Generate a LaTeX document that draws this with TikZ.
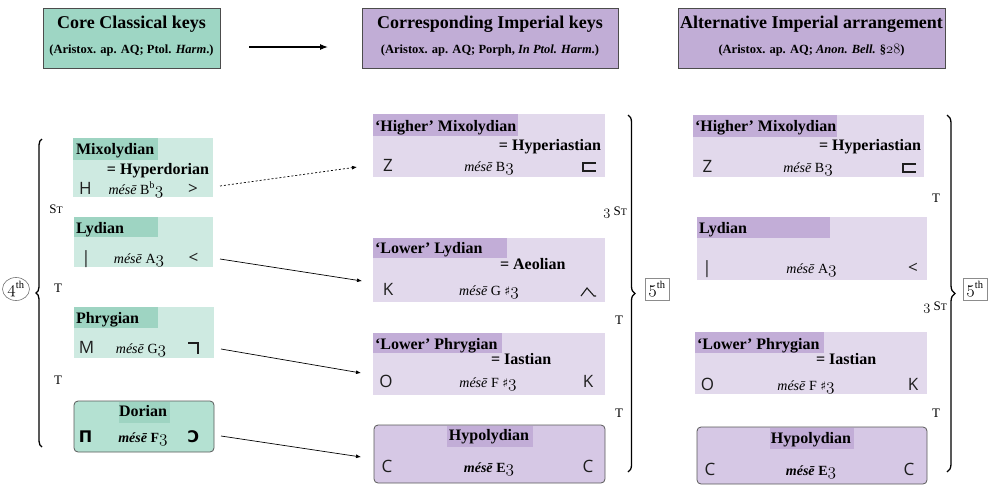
\documentclass[tikz,border=0pt]{standalone}
\usepackage{fontspec}
\setmainfont{Liberation Serif}
\newfontfamily\symf{Open Sans}
\newfontfamily\dvs{DejaVu Sans}
\usetikzlibrary{decorations.pathreplacing,calc,arrows.meta,shapes.geometric}
\newcommand\osn[2][16]{{\fontsize{#1}{#1}\usefont{OML}{lmm}{m}{it}#2}}
\newcommand\STx{S{\fontsize{10}{10}\selectfont T}}
\newcommand\mese{\textit{mésē}}
\newcommand\shp{{\dvs\fontsize{12}{12}\selectfont ♯}}
\definecolor{gHead}{RGB}{158,214,196}
\definecolor{gLight}{RGB}{206,234,225}
\definecolor{gBand}{RGB}{158,212,194}
\definecolor{gDor}{RGB}{180,225,210}
\definecolor{pHead}{RGB}{193,173,214}
\definecolor{pLight}{RGB}{226,217,236}
\definecolor{pBand}{RGB}{194,173,215}
\definecolor{pHypo}{RGB}{214,200,229}
\definecolor{symc}{RGB}{30,30,30}
\tikzset{
  every node/.style={inner sep=0pt, outer sep=0pt},
  ttl/.style={font=\fontsize{18}{20}\selectfont\bfseries, anchor=base},
  sub/.style={font=\fontsize{12.5}{14}\selectfont\bfseries, anchor=base},
  hdr/.style={draw=black!70, line width=0.8pt, anchor=north west, minimum height=60},
  gbox/.style={fill=gLight, anchor=north west},
  pbox/.style={fill=pLight, anchor=north west},
  gband/.style={fill=gBand, anchor=north west},
  pband/.style={fill=pBand, anchor=north west},
  rbox/.style={draw=black!65, line width=0.8pt, rounded corners=4pt, anchor=north west},
  lbl/.style={font=\fontsize{16}{18}\selectfont\bfseries, anchor=base west},
  eqs/.style={font=\fontsize{16}{18}\selectfont\bfseries},
  mes/.style={font=\fontsize{14}{16}\selectfont, anchor=base},
  sym/.style={font=\symf\fontsize{17}{19}\selectfont, text=symc, anchor=base},
  bsym/.style={font=\dvs\bfseries\fontsize{16}{18}\selectfont, text=black, anchor=base},
  lsym/.style={draw=symc, line width=1.2pt},
  step lbl/.style={font=\fontsize{13}{15}\selectfont, anchor=base},
  conn/.style={-{Latex[length=5pt,width=4pt]}, line width=0.7pt},
  brc/.style={decorate, line width=1.3pt},
  interval/.style={font=\fontsize{15}{17}\selectfont}
}
\begin{document}
\begin{tikzpicture}[x=1pt,y=-1pt]
\useasboundingbox (0,0) rectangle (988,485);
% headers
\node[hdr, fill=gHead, minimum width=177] (h1) at (43,8) {};
\node[ttl] (h1t) at (131.5,28) {Core Classical keys};
\node[sub] (h1s) at (131.5,53) {(Aristox. ap. AQ; Ptol. \textit{Harm}.)};
\node[hdr, fill=pHead, minimum width=256] (h2) at (362,8) {};
\node[ttl] (h2t) at (490,28) {Corresponding Imperial keys};
\node[sub] (h2s) at (490,53) {(Aristox. ap. AQ; Porph, \textit{In Ptol. Harm}.)};
\node[hdr, fill=pHead, minimum width=267] (h3) at (678,8) {};
\node[ttl] (h3t) at (811.5,28) {Alternative Imperial arrangement};
\node[sub] (h3s) at (811.5,53) {(Aristox. ap. AQ; \textit{Anon. Bell.} §\osn[14]{28})};
\draw[-{Latex[length=8pt,width=6pt]}, line width=1.1pt] ($(h1.east)+(29,9)$) -- ($(h2.west)+(-34,9)$);

% ---------- left column
\node[gbox, minimum width=140, minimum height=59] (mix) at (73,138) {};
\node[gband, minimum width=85, minimum height=22] (mixb) at (mix.north west) {};
\node[lbl] (mixl) at (76,154) {Mixolydian};
\node[eqs, anchor=base east] (mixe) at (209,174) {= Hyperdorian};
\node[sym] (mixs1) at (85.5,194) {H};
\node[mes] (mixm) at (136,194) {\mese{} B\textsuperscript{b}\osn{3}};
\node[sym] (mixs2) at (193,194) {>};

\node[gbox, minimum width=139, minimum height=50] (lyd) at (74,217) {};
\node[gband, minimum width=84, minimum height=20] (lydb) at (lyd.north west) {};
\node[lbl] (lydl) at (76,233) {Lydian};
\node[sym] (lyds1) at (86,263) {|};
\node[mes] (lydm) at (139,263) {\mese{} A\osn{3}};
\node[sym] (lyds2) at (193.5,263) {<};

\node[gbox, minimum width=140, minimum height=51] (phr) at (74,307) {};
\node[gband, minimum width=84, minimum height=21] (phrb) at (phr.north west) {};
\node[lbl] (phrl) at (76,323) {Phrygian};
\node[sym] (phrs1) at (86.5,353) {M};
\node[mes] (phrm) at (141,353) {\mese{} G\osn{3}};
\draw[lsym, line width=1.6pt] (188,343) -- (198,343) -- (198,354);

\node[rbox, fill=gDor, minimum width=140, minimum height=51] (dor) at (74,401) {};
\node[gband, anchor=north, minimum width=51, minimum height=21] (dorb) at ([yshift=-0.8pt]dor.north) {};
\node[lbl, anchor=base] (dorl) at (143,416) {Dorian};
\node[bsym] (dors1) at (85.5,442) {Π};
\node[mes] (dorm) at (143,442) {\textit{\textbf{mésē}} \textbf{F\osn{3}}};
\node[bsym] (dors2) at (193.5,442) {Ɔ};

\draw[brc, decoration={brace, amplitude=6pt}] (42,447) -- (42,139);
\node[draw=black!55, line width=0.6pt, ellipse, minimum width=27, minimum height=23, interval] (fourth) at (16,289) {\osn[17]{4}\textsuperscript{th}};
\node[step lbl] (l1) at (56,213) {\STx};
\node[step lbl] (l2) at (58,292) {T};
\node[step lbl] (l3) at (58,384) {T};

% ---------- middle column
\node[pbox, minimum width=232, minimum height=63] (hmix) at (373,114) {};
\node[pband, minimum width=145, minimum height=22] (hmixb) at (hmix.north west) {};
\node[lbl] (hmixl) at (375,131) {‘Higher’ Mixolydian};
\node[eqs, anchor=base east] (hmixe) at (601,150) {= Hyperiastian};
\node[sym] (hmixs1) at (388,171) {Z};
\node[mes] (hmixm) at (489,171) {\mese{} B\osn{3}};
\draw[lsym] (596,163) -- (583,163) -- (583,171) -- (596,171);

\node[pbox, minimum width=232, minimum height=64] (llyd) at (373,238) {};
\node[pband, minimum width=134, minimum height=20] (llydb) at (llyd.north west) {};
\node[lbl] (llydl) at (375,253) {‘Lower’ Lydian};
\node[eqs, anchor=base west] (llyde) at (500,269) {= Aeolian};
\node[sym] (llyds1) at (388,295) {K};
\node[mes] (llydm) at (489,295) {\mese{} G \shp\osn{3}};
\draw[lsym, line width=1.1pt] (581,296) -- (587,288) -- (594,296) -- (596,296);

\node[pbox, minimum width=232, minimum height=62] (lphr) at (373,333) {};
\node[pband, minimum width=129, minimum height=20] (lphrb) at (lphr.north west) {};
\node[lbl] (lphrl) at (375,349) {‘Lower’ Phrygian};
\node[eqs, anchor=base west] (lphre) at (491,364) {= Iastian};
\node[sym] (lphrs1) at (386,387) {O};
\node[mes] (lphrm) at (488,387) {\mese{} F \shp\osn{3}};
\node[sym] (lphrs2) at (588,387) {K};

\node[rbox, fill=pHypo, minimum width=231, minimum height=58] (hypo) at (374,425) {};
\node[pband, anchor=north, minimum width=86, minimum height=21] (hypob) at ([yshift=-0.8pt]hypo.north) {};
\node[lbl, anchor=base] (hypol) at (489,440) {Hypolydian};
\node[sym] (hypos1) at (387,472) {C};
\node[mes] (hypom) at (489,472) {\textit{\textbf{mésē}} \textbf{E\osn{3}}};
\node[sym] (hypos2) at (588,472) {C};

\draw[brc, decoration={brace, amplitude=7pt}] (628,115) -- (628,472);
\node[draw=black!45, line width=0.6pt, minimum width=24, minimum height=22, interval] (fifth1) at (657,289) {\osn[17]{5}\textsuperscript{th}};
\node[step lbl, anchor=base east] (m1) at (627,215) {\osn[15]{3} \STx};
\node[step lbl] (m2) at (619,324) {T};
\node[step lbl] (m3) at (619,417) {T};

% ---------- right column
\node[pbox, minimum width=231, minimum height=62] (rhmix) at (693,115) {};
\node[pband, minimum width=144, minimum height=22] (rhmixb) at (rhmix.north west) {};
\node[lbl] (rhmixl) at (695,131) {‘Higher’ Mixolydian};
\node[eqs, anchor=base east] (rhmixe) at (921,150) {= Hyperiastian};
\node[sym] (rhmixs1) at (707.5,172) {Z};
\node[mes] (rhmixm) at (808,172) {\mese{} B\osn{3}};
\draw[lsym] (916,164) -- (903,164) -- (903,172) -- (916,172);

\node[pbox, minimum width=230, minimum height=63] (rlyd) at (697,217) {};
\node[pband, minimum width=133, minimum height=21] (rlydb) at (rlyd.north west) {};
\node[lbl] (rlydl) at (699,233) {Lydian};
\node[sym] (rlyds1) at (707,273) {|};
\node[mes] (rlydm) at (811.5,273) {\mese{} A\osn{3}};
\node[sym] (rlyds2) at (913,273) {<};

\node[pbox, minimum width=232, minimum height=62] (rlphr) at (695,332) {};
\node[pband, minimum width=129, minimum height=21] (rlphrb) at (rlphr.north west) {};
\node[lbl] (rlphrl) at (697,349) {‘Lower’ Phrygian};
\node[eqs, anchor=base west] (rlphre) at (816,364) {= Iastian};
\node[sym] (rlphrs1) at (707.5,390) {O};
\node[mes] (rlphrm) at (806,390) {\mese{} F \shp\osn{3}};
\node[sym] (rlphrs2) at (913,390) {K};

\node[rbox, fill=pHypo, minimum width=230, minimum height=57] (rhypo) at (697,427) {};
\node[pband, anchor=north, minimum width=84, minimum height=21] (rhypob) at ([yshift=-0.8pt]rhypo.north) {};
\node[lbl, anchor=base] (rhypol) at (811,443) {Hypolydian};
\node[sym] (rhypos1) at (710,475) {C};
\node[mes] (rhypom) at (811,475) {\textit{\textbf{mésē}} \textbf{E\osn{3}}};
\node[sym] (rhypos2) at (909,475) {C};

\draw[brc, decoration={brace, amplitude=8pt}] (947,115) -- (947,472);
\node[draw=black!45, line width=0.6pt, minimum width=24, minimum height=22, interval] (fifth2) at (975,289) {\osn[17]{5}\textsuperscript{th}};
\node[step lbl] (r1) at (936,202) {T};
\node[step lbl, anchor=base east] (r2) at (947,310) {\osn[15]{3} \STx};
\node[step lbl] (r3) at (936,417) {T};

% ---------- connectors
\draw[conn, dash pattern=on 2pt off 2pt] ($(mix.east)+(7,18.5)$) -- ($(hmix.west)+(-16,21.5)$);
\draw[conn] ($(lyd.east)+(7,17)$) -- ($(llyd.west)+(-11,11)$);
\draw[conn] ($(phr.east)+(7,16.5)$) -- ($(lphr.west)+(-12,9)$);
\draw[conn] ($(dor.east)+(7,9.5)$) -- ($(hypo.west)+(-13,3)$);
\end{tikzpicture}
\end{document}
